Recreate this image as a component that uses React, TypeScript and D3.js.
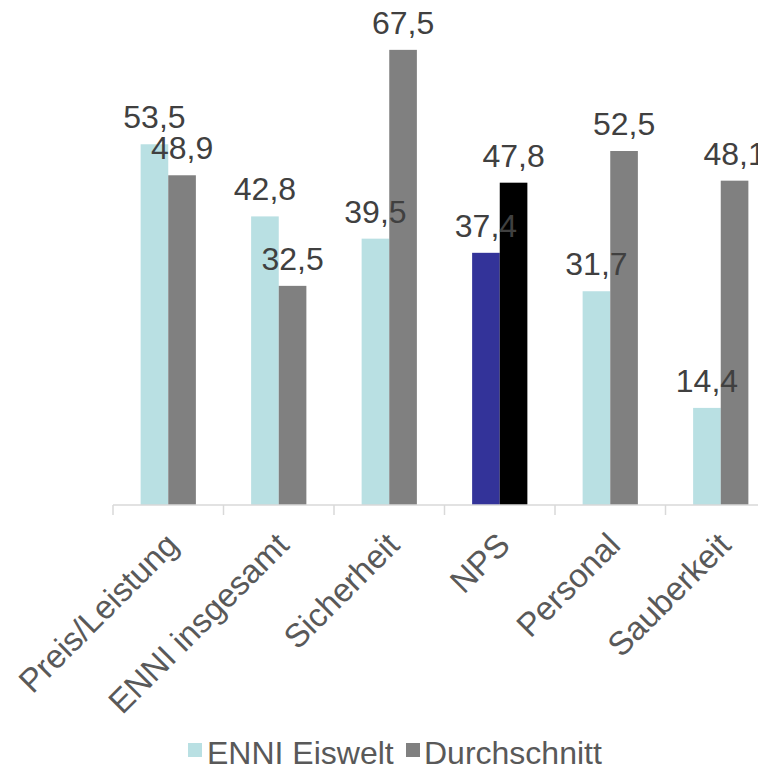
import React from "react"
import * as d3 from "d3"

const categories = ["Preis/Leistung", "ENNI insgesamt", "Sicherheit", "NPS", "Personal", "Sauberkeit"]
const seriesNames = ["ENNI Eiswelt", "Durchschnitt"]
const enniValues = [53.5, 42.8, 39.5, 37.4, 31.7, 14.4]
const avgValues = [48.9, 32.5, 67.5, 47.8, 52.5, 48.1]
const seriesColors = ["#B9E0E3", "#808080"]
// NPS is highlighted with its own colours in the original
const highlightColors: Record<string, string[]> = { NPS: ["#333399", "#000000"] }

const fmt = (v: number) => v.toFixed(1).replace(".", ",")

export default function App() {
  const width = 758
  const height = 770
  const baseline = 505

  const x = d3.scaleBand<string>().domain(categories).range([113, 113 + 6 * 110.5])
  const x1 = d3
    .scaleBand<string>()
    .domain(seriesNames)
    .range([x.bandwidth() * 0.25, x.bandwidth() * 0.75])
  const y = d3.scaleLinear().domain([0, 70]).range([baseline, 33])

  const values = [enniValues, avgValues]
  const tickXs = categories.map((c) => x(c) as number).concat([(x(categories[5]) as number) + x.bandwidth()])

  return (
    <div style={{ position: "absolute", left: 0, top: 0 }}>
      <svg width={width} height={height} style={{ display: "block", fontFamily: "Liberation Sans, Arial, sans-serif" }}>
        <rect width={width} height={height} fill="#ffffff" />
        {seriesNames.map((s, si) =>
          categories.map((c, ci) => {
            const v = values[si][ci]
            const bx = (x(c) as number) + (x1(s) as number)
            const color = highlightColors[c] ? highlightColors[c][si] : seriesColors[si]
            return <rect key={s + c} x={bx} y={y(v)} width={x1.bandwidth()} height={baseline - y(v)} fill={color} />
          }),
        )}
        <line x1={113} x2={width} y1={baseline} y2={baseline} stroke="#D9D9D9" strokeWidth={1.5} />
        {tickXs.map((tx, i) => (
          <line key={i} x1={tx} x2={tx} y1={baseline} y2={baseline + 10} stroke="#D9D9D9" strokeWidth={1.5} />
        ))}
        {seriesNames.map((s, si) =>
          categories.map((c, ci) => {
            const v = values[si][ci]
            const cx = (x(c) as number) + (x1(s) as number) + x1.bandwidth() / 2
            return (
              <text key={"l" + s + c} x={cx} y={y(v) - 16} textAnchor="middle" fontSize={32} fill="#404040">
                {fmt(v)}
              </text>
            )
          }),
        )}
        {categories.map((c) => {
          const cx = (x(c) as number) + x.bandwidth() / 2
          return (
            <text
              key={"c" + c}
              transform={`translate(${cx + 12},${baseline + 42}) rotate(-45)`}
              textAnchor="end"
              fontSize={33}
              fill="#595959"
            >
              {c}
            </text>
          )
        })}
        <g>
          <rect x={188} y={743} width={14} height={14} fill={seriesColors[0]} />
          <text x={207} y={764} fontSize={32} fill="#595959">
            {seriesNames[0]}
          </text>
          <rect x={406} y={743} width={14} height={14} fill={seriesColors[1]} />
          <text x={424} y={764} fontSize={32} fill="#595959">
            {seriesNames[1]}
          </text>
        </g>
      </svg>
    </div>
  )
}
